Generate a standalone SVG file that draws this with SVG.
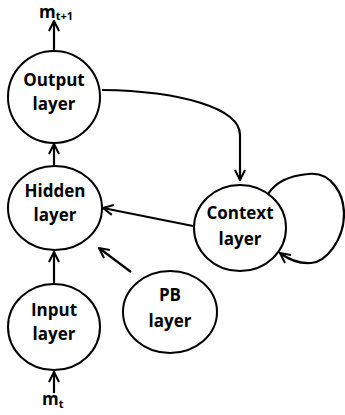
<svg xmlns="http://www.w3.org/2000/svg" width="345" height="415" viewBox="0 0 345 415">
<style>
.node{fill:#fff;stroke:#000;stroke-width:2}
.lbl{font-family:"Open Sans","Liberation Sans",sans-serif;font-weight:700;font-size:17px;fill:#000;text-anchor:middle}
.lm{font-family:"Open Sans","Liberation Sans",sans-serif;font-weight:700;font-size:17px;fill:#000;text-anchor:start}
.edge{fill:none;stroke:#000;stroke-width:2.2}
.sub{font-size:11px}
</style>
<defs>
<marker id="arr" viewBox="0 0 12 12" refX="11" refY="6" markerWidth="12" markerHeight="12" markerUnits="userSpaceOnUse" orient="auto">
<path d="M1,1 L11,6 L1,11" fill="none" stroke="#000" stroke-width="2"/>
</marker>
</defs>
<rect width="345" height="415" fill="#fff"/>
<g id="connectors">
<path class="edge" d="M54,50 L54,21" marker-end="url(#arr)"/>
<path class="edge" d="M54,166 L54,144" marker-end="url(#arr)"/>
<path class="edge" d="M54,284 L54,252" marker-end="url(#arr)"/>
<path class="edge" d="M54,393 L54,372" marker-end="url(#arr)"/>
<path class="edge" d="M102,90 C180,91 240,108 240,135 L240,180" marker-end="url(#arr)"/>
<path class="edge" d="M193,226 L103,208" marker-end="url(#arr)"/>
<path class="edge" d="M131,272 L99,248" marker-end="url(#arr)"/>
<path class="edge" d="M268,194 C276,182 288,176 308,174 C332,171 344,195 344,214 C344,240 326,262 311,263 C298,264 288,259 280,253" marker-end="url(#arr)"/>
</g>
<g id="m_t1"><text class="lm" x="39" y="18">m<tspan class="sub" dy="2">t+1</tspan></text></g>
<g id="output"><ellipse class="node" cx="54" cy="97" rx="46" ry="46"/><text class="lbl" x="54" y="86">Output</text><text class="lbl" x="54" y="110">layer</text></g>
<g id="hidden"><ellipse class="node" cx="55" cy="208" rx="47" ry="42"/><text class="lbl" x="55" y="197">Hidden</text><text class="lbl" x="55" y="221">layer</text></g>
<g id="input"><ellipse class="node" cx="54" cy="327" rx="46" ry="43"/><text class="lbl" x="54" y="316">Input</text><text class="lbl" x="54" y="340">layer</text></g>
<g id="context"><ellipse class="node" cx="240" cy="228" rx="46" ry="43"/><text class="lbl" x="240" y="219">Context</text><text class="lbl" x="240" y="245">layer</text></g>
<g id="pb"><ellipse class="node" cx="170" cy="312" rx="47" ry="41"/><text class="lbl" x="170" y="301">PB</text><text class="lbl" x="170" y="327">layer</text></g>
<g id="m_t"><text class="lm" x="42" y="405">m<tspan class="sub" dy="3">t</tspan></text></g>
</svg>
